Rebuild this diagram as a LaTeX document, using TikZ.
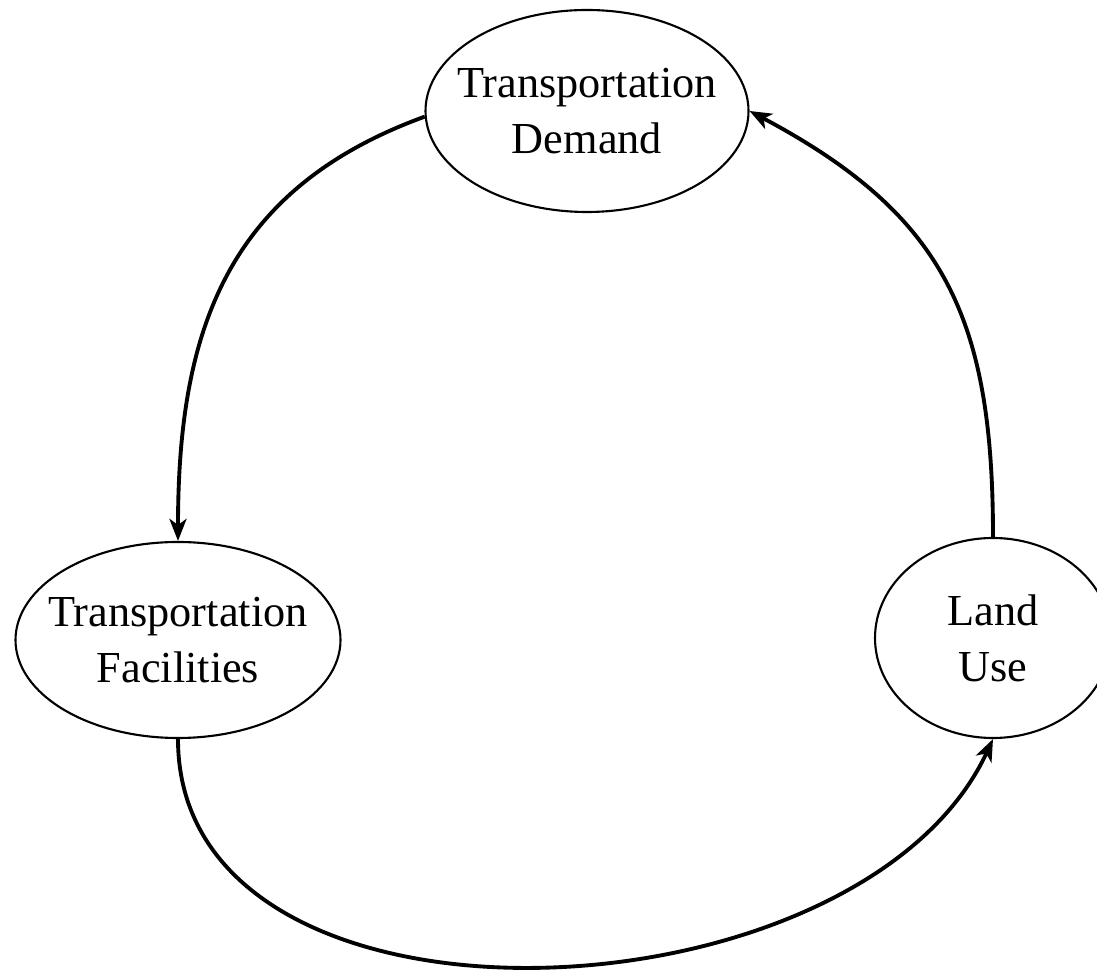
\documentclass[tikz,border=0pt]{standalone}
\usepackage{fontspec}
\setmainfont{Liberation Serif}
\usetikzlibrary{arrows.meta,shapes.geometric}

\tikzset{
	blob/.style={draw, ellipse, line width=0.6pt, inner sep=-1cm, align=center,
		font=\fontsize{12.6}{15.9}\selectfont},
	flow/.style={line width=1.1pt, -{Stealth[length=2.2mm, width=1.7mm, inset=0.6mm]}}
}

\begin{document}
\begin{tikzpicture}
		\useasboundingbox (0,0) rectangle (10.97,9.73);
		\node [blob, minimum width=3.23cm, minimum height=2.02cm] (td) at (5.87, 8.62) {Transportation\\Demand};
		\node [blob, minimum width=3.25cm, minimum height=1.96cm] (tf) at (1.78, 3.33) {Transportation\\Facilities};
		\node [blob, minimum width=2.36cm, minimum height=2.00cm] (lu) at (9.93, 3.35) {Land\\Use}; %cut at right edge
		\draw [flow, out=200, in=90, looseness=1.1] (td.182) to (tf.north);
		\draw [flow, out=-90, in=-115] (tf.south) to (lu.south);
		\draw [flow, out=90, in=-28, looseness=1.15] (lu.north) to (td.east);
    \end{tikzpicture}
\end{document}
